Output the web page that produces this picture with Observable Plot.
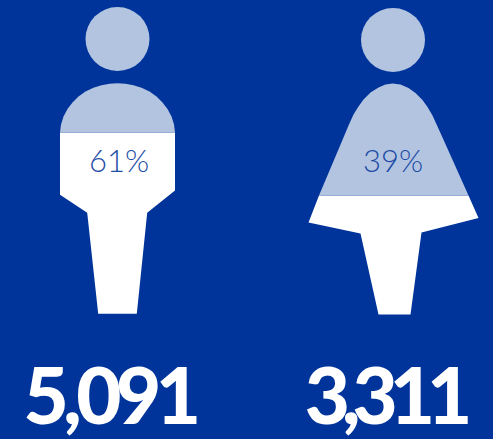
<!DOCTYPE html>
<html>
<head>
<meta charset="utf-8">
<script src="https://cdn.jsdelivr.net/npm/d3@7"></script>
<script src="https://cdn.jsdelivr.net/npm/@observablehq/plot@0.6"></script>
<style>
html,body{margin:0;padding:0;background:#00349b;overflow:hidden}
svg{display:block}
g[font-weight="900"] text:nth-child(1){letter-spacing:-5.5px}
g[font-weight="900"] text:nth-child(2){letter-spacing:-8px}
</style>
</head>
<body>
<div id="chart"></div>
<script>
const navy = "#00349b", pale = "#b3c4e1", white = "#ffffff", ink = "#1f4da6";
const totals = ["5,091", "3,311"];
const totalX = [109, 384];
const shares = ["61%", "39%"];
const shareX = [118.5, 392.5];
const heads = [[117, 38.5], [392.5, 39.5]];
const manUpper = [[59.5,132.3],[60.5,124],[63,116],[67,108.5],[72,102],[78,96],[85,91],[93,87.2],[101,84.7],[109,83.3],[117,82.8],[125,83.3],[133,84.7],[141,87.2],[149,91],[156,96],[162,102],[167,108.5],[171,116],[173.5,124],[174.5,132.3]];
const manLower = [[59.5,132.3],[174.5,132.3],[174.5,190],[146.7,212.3],[136.3,313.3],[97.7,313.3],[86.7,212.3],[59.5,194.3]];
const womanUpper = [[318.5,195],[343,137],[348,125],[353,114],[358,106],[363,99],[370,92],[378,87],[385,84],[392,83],[400,84],[408,87.5],[415,92.5],[422,99.5],[427,106.5],[432,115],[437,126],[442,137],[468,195]];
const womanLower = [[318.5,195],[468,195],[478,217.5],[421,232],[410,314],[378,314],[360,233],[308,222]];
const rows = s => s.map(([x, y]) => ({x, y}));
const shape = (s, fill) => Plot.line(rows(s), {x: "x", y: "y", fill, stroke: "none", curve: "linear-closed"});
const plot = Plot.plot({
  width: 493, height: 439, margin: 0,
  x: {domain: [0, 493], range: [0, 493], axis: null},
  y: {domain: [0, 439], range: [0, 439], axis: null},
  style: {background: navy},
  marks: [
    Plot.dot(rows(heads), {x: "x", y: "y", r: 32, fill: pale, stroke: "none"}),
    shape(manLower, white), shape(manUpper, pale),
    shape(womanLower, white), shape(womanUpper, pale),
    Plot.text(shares, {x: (d, i) => shareX[i], y: () => 162, text: d => d, fill: ink, fontSize: 31, fontWeight: 300, fontFamily: "Lato"}),
    Plot.text(totals, {x: (d, i) => totalX[i], y: () => 423, text: d => d, fill: white, fontSize: 78, fontWeight: 900, fontFamily: "Lato", lineAnchor: "bottom"})
  ]
});
document.getElementById("chart").append(plot);
</script>
</body>
</html>
